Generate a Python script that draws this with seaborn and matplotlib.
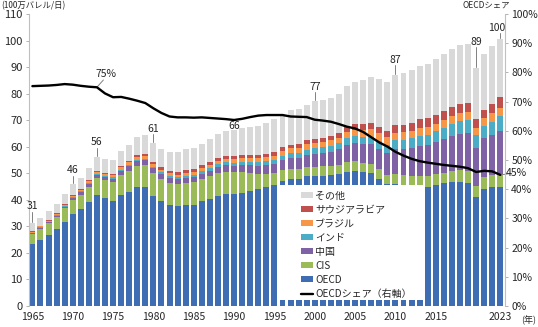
import numpy as np
import pandas as pd
import matplotlib
matplotlib.use("Agg")
import matplotlib.pyplot as plt
import seaborn as sns
from matplotlib.patches import Patch, Rectangle
from matplotlib.lines import Line2D

# ---------------- data (million barrels / day) ----------------
years = list(range(1965, 2024))

total = [31.3, 33.3, 35.8, 38.6, 42.1, 45.8, 48.3, 52.0, 56.2, 55.3,
         55.1, 58.5, 60.8, 63.5, 64.5, 61.4, 59.1, 58.2, 58.0, 59.1,
         59.5, 61.2, 62.8, 64.7, 65.8, 66.3, 67.2, 67.4, 67.7, 68.9,
         70.3, 72.3, 74.0, 74.3, 75.7, 77.1, 77.7, 78.4, 80.0, 83.0,
         84.4, 85.0, 86.4, 85.6, 84.2, 87.1, 87.8, 88.8, 90.3, 91.2,
         93.1, 95.0, 96.9, 98.2, 98.6, 89.7, 95.1, 97.9, 100.4]

oecd = [23.4, 25.0, 26.9, 29.0, 31.8, 34.7, 36.4, 39.0, 42.0, 40.6,
        39.5, 41.8, 43.1, 44.7, 44.8, 41.6, 39.4, 37.9, 37.5, 37.9,
        38.2, 39.4, 40.3, 41.6, 42.2, 42.2, 42.6, 43.3, 44.0, 45.0,
        45.6, 47.2, 47.9, 48.0, 48.8, 49.0, 49.1, 49.2, 49.7, 50.6,
        51.0, 50.5, 50.0, 47.9, 46.0, 46.1, 45.6, 45.2, 45.1, 45.0,
        45.7, 46.2, 46.6, 46.9, 46.5, 41.1, 44.1, 44.8, 45.0]

cis = [3.8, 4.1, 4.4, 4.7, 5.0, 5.3, 5.6, 6.0, 6.3, 6.7,
       7.1, 7.4, 7.8, 8.0, 8.2, 8.4, 8.5, 8.5, 8.5, 8.6,
       8.5, 8.5, 8.6, 8.5, 8.4, 8.2, 7.8, 6.9, 5.9, 4.9,
       4.4, 4.0, 3.8, 3.6, 3.5, 3.5, 3.5, 3.5, 3.5, 3.5,
       3.5, 3.5, 3.6, 3.7, 3.5, 3.5, 3.7, 3.8, 3.9, 3.9,
       4.0, 4.0, 4.1, 4.2, 4.2, 4.1, 4.5, 4.7, 4.7]

china = [0.2, 0.25, 0.25, 0.3, 0.4, 0.6, 0.8, 0.9, 1.1, 1.2,
         1.4, 1.5, 1.7, 1.8, 1.9, 1.8, 1.7, 1.7, 1.7, 1.8,
         1.9, 2.0, 2.1, 2.3, 2.4, 2.4, 2.6, 2.8, 3.0, 3.1,
         3.4, 3.7, 4.0, 4.2, 4.5, 4.8, 4.9, 5.3, 5.8, 6.6,
         6.9, 7.1, 7.4, 7.7, 8.1, 9.5, 9.9, 10.6, 11.3, 11.6,
         12.1, 12.6, 13.2, 13.7, 14.3, 14.5, 14.6, 15.0, 16.4]

india = [0.25, 0.27, 0.28, 0.3, 0.32, 0.37, 0.4, 0.42, 0.45, 0.45,
         0.48, 0.5, 0.53, 0.57, 0.62, 0.65, 0.7, 0.75, 0.78, 0.82,
         0.9, 0.95, 1.0, 1.1, 1.15, 1.2, 1.25, 1.3, 1.35, 1.45,
         1.6, 1.7, 1.8, 1.95, 2.1, 2.25, 2.3, 2.4, 2.5, 2.6,
         2.6, 2.7, 2.8, 3.0, 3.1, 3.3, 3.4, 3.5, 3.6, 3.8,
         4.0, 4.4, 4.6, 4.9, 5.0, 4.6, 4.7, 5.0, 5.4]

brazil = [0.32, 0.34, 0.37, 0.42, 0.46, 0.52, 0.57, 0.64, 0.77, 0.85,
          0.9, 0.98, 1.0, 1.1, 1.15, 1.15, 1.1, 1.1, 1.05, 1.05,
          1.1, 1.2, 1.25, 1.3, 1.3, 1.35, 1.4, 1.4, 1.45, 1.5,
          1.6, 1.75, 1.85, 1.95, 1.95, 1.95, 2.0, 1.95, 1.95, 2.2,
          2.4, 2.6, 2.7, 2.8, 2.8, 2.9, 2.9, 3.0, 3.2, 3.2,
          2.9, 2.9, 3.0, 2.9, 3.0, 2.8, 2.9, 3.1, 3.2]

saudi = [0.25, 0.27, 0.28, 0.3, 0.3, 0.33, 0.35, 0.37, 0.4, 0.45,
         0.5, 0.55, 0.6, 0.65, 0.7, 0.75, 0.85, 0.95, 1.0, 1.0,
         1.0, 1.05, 1.05, 1.1, 1.15, 1.15, 1.2, 1.3, 1.35, 1.35,
         1.35, 1.4, 1.45, 1.5, 1.5, 1.55, 1.6, 1.65, 1.75, 1.9,
         2.0, 2.2, 2.3, 2.4, 2.5, 2.8, 2.8, 3.0, 3.2, 3.2,
         3.2, 3.3, 3.4, 3.5, 3.5, 3.4, 2.9, 3.6, 4.0]

oecd_share = [75.3, 75.4, 75.5, 75.7, 76.0, 75.8, 75.4, 75.1, 74.9, 72.8,
              71.5, 71.6, 71.0, 70.3, 69.5, 67.7, 66.1, 64.9, 64.6, 64.6,
              64.5, 64.6, 64.4, 64.2, 64.0, 63.7, 64.1, 64.7, 65.2, 65.4,
              65.4, 65.4, 64.9, 64.8, 64.7, 63.8, 63.5, 63.1, 62.3, 61.4,
              60.8, 59.6, 57.8, 56.0, 54.6, 52.8, 51.5, 50.4, 49.6, 49.1,
              48.7, 48.3, 48.0, 47.7, 47.2, 45.9, 46.3, 46.1, 44.9]

series_names = ["OECD", "CIS", "中国", "インド", "ブラジル", "サウジアラビア", "その他"]
series_colors = ["#3F6DB3", "#9BBB59", "#7F62A5", "#4BACC6", "#F79646", "#C0504D", "#D9D9D9"]

label_years = [1965, 1970, 1973, 1980, 1990, 2000, 2010, 2020, 2023]
label_texts = ["31", "46", "56", "61", "66", "77", "87", "89", "100"]

xtick_years = [1965, 1970, 1975, 1980, 1985, 1990, 1995, 2000, 2005, 2010, 2015, 2023]

# ---------------- figure ----------------
sns.set_style("white")
plt.rcParams["font.family"] = ["Noto Sans CJK JP", "DejaVu Sans"]

W, H = 538, 327
fig = plt.figure(figsize=(W / 100, H / 100), dpi=100)
ax = fig.add_axes([29 / W, 1 - 306 / H, 476 / W, 292 / H])

n = len(years)
df = pd.DataFrame({"year": years, "OECD": oecd, "CIS": cis, "中国": china,
                   "インド": india, "ブラジル": brazil, "サウジアラビア": saudi})
df["その他"] = np.array(total) - df[series_names[:-1]].sum(axis=1)
cum = df[series_names].cumsum(axis=1)

# draw from the top of the stack downwards (overlay)
for name, col in reversed(list(zip(series_names, series_colors))):
    sns.barplot(x=df["year"], y=cum[name], color=col, saturation=1,
                width=0.74, ax=ax, linewidth=0, zorder=2)

ax.set_xlim(-0.42, n - 0.42)
ax.set_ylim(0, 110)
ax.set_yticks(range(0, 111, 10))
ax.tick_params(axis="y", labelsize=8, length=2.5, width=0.6, color="#a6a6a6", pad=2)
ax.set_xticks([years.index(y) for y in xtick_years])
ax.set_xticklabels([str(y) for y in xtick_years])
ax.tick_params(axis="x", labelsize=7.5, length=0, pad=4)
ax.set_xlabel("")
ax.set_ylabel("")
for s in ["top", "bottom", "right"]:
    ax.spines[s].set_visible(False)
ax.spines["left"].set_color("#bfbfbf")
ax.spines["left"].set_linewidth(0.8)

# white legend panel
ax.add_patch(Rectangle((30.47, 2.26), 48.45 - 30.47, 45.7 - 2.26,
                       facecolor="white", edgecolor="none", zorder=4))

# total labels
offsets = {1965: 6.2, 1970: 5.3, 1973: 5.4, 1980: 5.3, 1990: 1.6, 2000: 5.5,
           2010: 5.7, 2020: 9.7, 2023: 4.4}
for yr, txt in zip(label_years, label_texts):
    i = years.index(yr)
    top = total[i]
    off = offsets[yr]
    xt = i - 0.45 if yr == 2023 else i
    ax.text(xt, top + off, txt, ha="center", va="center", fontsize=7.5, zorder=6)
    if yr != 1990:
        ax.plot([i, i], [top + 0.4, top + off - 2.0], color="#808080", lw=0.7, zorder=6)

# right axis: OECD share
ax2 = ax.twinx()
sns.lineplot(x=np.arange(n), y=oecd_share, ax=ax2, color="black", lw=1.7, zorder=5)
ax2.set_ylim(0, 100)
ax2.set_yticks(range(0, 101, 10))
ax2.set_yticklabels([f"{v}%" for v in range(0, 101, 10)])
ax2.tick_params(axis="y", labelsize=7.5, length=2.5, width=0.6, color="#a6a6a6", pad=2)
for s in ["top", "bottom", "left"]:
    ax2.spines[s].set_visible(False)
ax2.spines["right"].set_color("#bfbfbf")
ax2.spines["right"].set_linewidth(0.8)
ax2.set_xlim(ax.get_xlim())

i73 = years.index(1973)
ax2.text(i73 + 1.1, 79.6, "75%", ha="center", va="center", fontsize=7.5)
ax2.plot([i73 + 0.8, i73 + 0.05], [77.4, oecd_share[i73] + 0.2], color="#808080", lw=0.7)
ax2.text(n - 0.42 + 1.45, 45.6, "45%", ha="center", va="center", fontsize=7.5, clip_on=False)
ax2.plot([n - 1, n + 0.4], [oecd_share[-1], 45.4], color="#808080", lw=0.7, clip_on=False)

# legend
handles = [Patch(facecolor=c, edgecolor="none") for c in reversed(series_colors)]
handles.append(Line2D([0], [0], color="black", lw=1.7))
labels = list(reversed(series_names)) + ["OECDシェア（右軸）"]
leg = ax2.legend(handles, labels, loc="upper left",
                 bbox_to_anchor=(301 / W, 1 - 191 / H), bbox_transform=fig.transFigure,
                 frameon=False, fontsize=7.2, borderpad=0, borderaxespad=0,
                 handlelength=1.15, handleheight=0.55, handletextpad=0.25,
                 labelspacing=0.4)
leg.set_zorder(10)

# texts
fig.text(1 / W, 1 - 5.5 / H, "(100万バレル/日)", ha="left", va="center", fontsize=6)
fig.text(510 / W, 1 - 5.5 / H, "OECDシェア", ha="right", va="center", fontsize=6)
fig.text(536 / W, 1 - 320 / H, "(年)", ha="right", va="center", fontsize=6.5)

fig.savefig("out.png", dpi=100)
